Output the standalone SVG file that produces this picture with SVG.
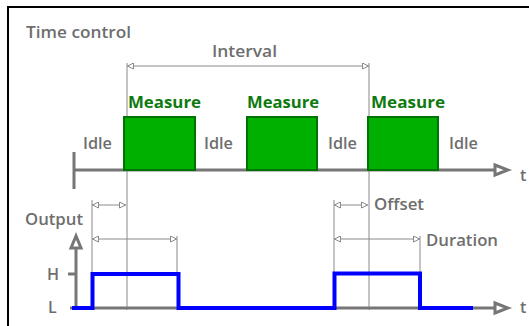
<svg xmlns="http://www.w3.org/2000/svg" width="529" height="326" viewBox="0 0 529 326">
<defs>
<style>
.lbl{font-family:"Open Sans","Liberation Sans",sans-serif;font-weight:600;font-size:16px;fill:#6e6e6e}
.meas{font-family:"Open Sans","Liberation Sans",sans-serif;font-weight:700;font-size:16px;fill:#0f7a0f}
.thin{stroke:#8a8a8a;stroke-width:1;fill:none}
.dim{stroke:#8a8a8a;stroke-width:1;fill:none;marker-start:url(#ah);marker-end:url(#ah)}
.axis{stroke:#767676;stroke-width:3;fill:none}
.ahead{stroke:#767676;stroke-width:3;fill:#ffffff;stroke-linejoin:miter}
.box{fill:#00b000;stroke:#007400;stroke-width:2}
</style>
<marker id="ah" viewBox="0 0 7 7" refX="7" refY="3.5" markerWidth="7" markerHeight="7" markerUnits="userSpaceOnUse" orient="auto-start-reverse">
<path d="M0.5,0.5 L6.5,3.5 L0.5,6.5 z" fill="#ffffff" stroke="#8a8a8a" stroke-width="1"/>
</marker>
</defs>
<rect width="529" height="326" fill="#ffffff"/>
<rect x="8" y="7" width="540" height="340" fill="none" stroke="#000000" stroke-width="2"/>
<text class="lbl" x="26" y="38" textLength="105" lengthAdjust="spacingAndGlyphs">Time control</text>

<g id="connectors">
<line class="thin" x1="127" y1="63" x2="127" y2="310"/>
<line class="thin" x1="369" y1="63" x2="369" y2="310"/>
<line class="dim" x1="127" y1="66" x2="369" y2="66"/>
<line class="thin" x1="92" y1="200" x2="92" y2="274"/>
<line class="thin" x1="177" y1="236" x2="177" y2="274"/>
<line class="dim" x1="92" y1="205" x2="126" y2="205"/>
<line class="dim" x1="92" y1="239" x2="177" y2="239"/>
<line class="thin" x1="334" y1="200" x2="334" y2="274"/>
<line class="thin" x1="420" y1="236" x2="420" y2="274"/>
<line class="dim" x1="334" y1="205" x2="368" y2="205"/>
<line class="dim" x1="334" y1="239" x2="420" y2="239"/>
</g>
<text class="lbl" x="212" y="57" textLength="65" lengthAdjust="spacingAndGlyphs">Interval</text>

<g id="timeline">
<line class="axis" x1="74" y1="152" x2="74" y2="189"/>
<line class="axis" x1="74" y1="170" x2="496" y2="170"/>
<polygon class="ahead" points="495,165 508,170 495,175"/>
<text class="lbl" x="520" y="181">t</text>
</g>

<g id="measure1">
<rect class="box" x="124" y="117" width="71" height="53"/>
<text class="meas" x="128" y="108" textLength="73" lengthAdjust="spacingAndGlyphs">Measure</text>
</g>
<g id="measure2">
<rect class="box" x="247" y="117" width="70" height="53"/>
<text class="meas" x="247" y="108" textLength="72" lengthAdjust="spacingAndGlyphs">Measure</text>
</g>
<g id="measure3">
<rect class="box" x="368" y="117" width="70" height="53"/>
<text class="meas" x="371" y="108" textLength="74" lengthAdjust="spacingAndGlyphs">Measure</text>
</g>
<g id="idle-labels">
<text class="lbl" x="83" y="149" textLength="29" lengthAdjust="spacingAndGlyphs">Idle</text>
<text class="lbl" x="204" y="149" textLength="29" lengthAdjust="spacingAndGlyphs">Idle</text>
<text class="lbl" x="328" y="149" textLength="29" lengthAdjust="spacingAndGlyphs">Idle</text>
<text class="lbl" x="449" y="149" textLength="29" lengthAdjust="spacingAndGlyphs">Idle</text>
</g>

<text class="lbl" x="374" y="210" textLength="50" lengthAdjust="spacingAndGlyphs">Offset</text>
<text class="lbl" x="426" y="246" textLength="72" lengthAdjust="spacingAndGlyphs">Duration</text>

<g id="output">
<text class="lbl" x="25" y="225" textLength="58" lengthAdjust="spacingAndGlyphs">Output</text>
<line class="axis" x1="76" y1="248" x2="76" y2="308"/>
<polygon class="ahead" points="76,236 71,248 81,248"/>
<line class="axis" x1="68" y1="274" x2="76" y2="274"/>
<text class="lbl" x="47" y="280">H</text>
<text class="lbl" x="48" y="313">L</text>
<line class="axis" x1="70" y1="308" x2="496" y2="308"/>
<polygon class="ahead" points="495,303 508,308 495,313"/>
<text class="lbl" x="520" y="313">t</text>
<path d="M72,308 H92.5 V274 H178.5 V308 H334.5 V273.5 H420 V308 H473" fill="none" stroke="#0000ff" stroke-width="4"/>
</g>
</svg>
